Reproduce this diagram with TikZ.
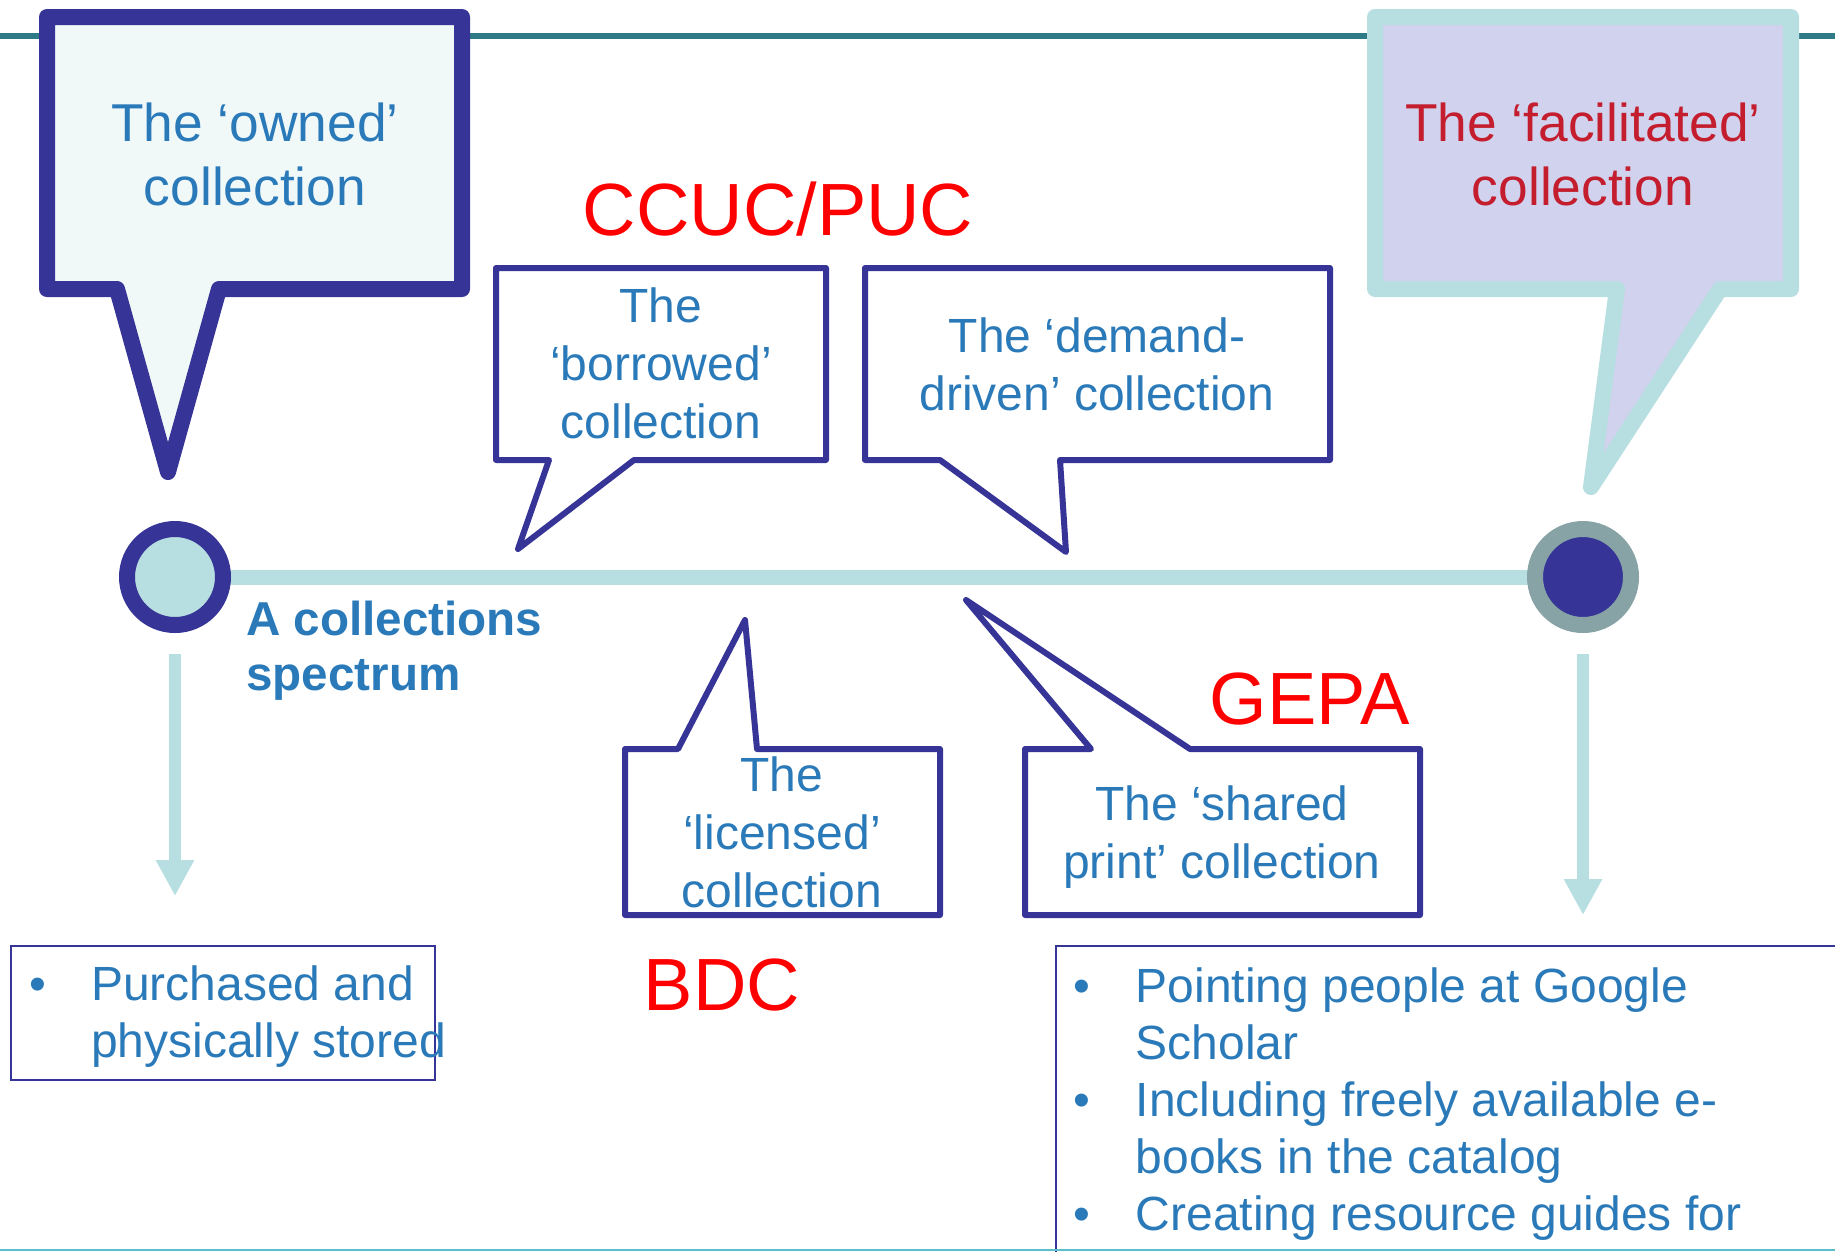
\documentclass[tikz,border=0pt]{standalone}
\usepackage{fontspec}
\setmainfont{Liberation Sans}
\usepackage{xcolor}
\usepackage{tikz}
\usetikzlibrary{arrows.meta,backgrounds}

\definecolor{indigo}{RGB}{54,52,150}
\definecolor{paleteal}{RGB}{183,222,224}
\definecolor{ownfill}{RGB}{240,248,248}
\definecolor{lavender}{RGB}{208,210,238}
\definecolor{ringgray}{RGB}{135,163,166}
\definecolor{ruleteal}{RGB}{46,123,135}
\definecolor{textblue}{RGB}{42,122,185}
\definecolor{darkred}{RGB}{196,30,46}
\definecolor{edgecyan}{RGB}{91,191,203}

\begin{document}
\begin{tikzpicture}[x=1pt, y=-1pt,
  bigcall/.style={line width=16pt, line join=round},
  smallcall/.style={draw=indigo, line width=6pt, line join=round, fill=white},
  calltext/.style={inner sep=0pt, align=center, text=textblue, font=\fontsize{48}{58}\selectfont},
  bigtext/.style={inner sep=0pt, align=center, font=\fontsize{53.3}{64}\selectfont},
  grouptag/.style={inner sep=0pt, text=red, font=\fontsize{74}{86}\selectfont},
  listbox/.style={draw=indigo, line width=2pt},
  bullets/.style={inner sep=0pt, align=left, text=textblue, font=\fontsize{48}{57}\selectfont},
  endpoint/.style={circle, inner sep=0pt, outer sep=0pt, minimum size=96pt, line width=16pt},
  flow/.style={draw=paleteal, line width=12pt, -{Triangle[width=36pt,length=36pt]}},
]
\useasboundingbox (0,0) rectangle (1835,1251);
\clip (0,0) rectangle (1835,1251);

\filldraw[bigcall, draw=indigo, fill=ownfill] (47,17) -- (462,17) -- (462,289) -- (219,289) -- (168,472) -- (117,289) -- (47,289) -- cycle;
\filldraw[bigcall, draw=paleteal, fill=lavender] (1375,17) -- (1791,17) -- (1791,289) -- (1720,289) -- (1591,487) -- (1617,289) -- (1375,289) -- cycle;
\filldraw[smallcall] (496,268) -- (826,268) -- (826,460) -- (634,460) -- (518,549) -- (549,460) -- (496,460) -- cycle;
\filldraw[smallcall] (865,268) -- (1330,268) -- (1330,460) -- (1060,460) -- (1066,552) -- (940,460) -- (865,460) -- cycle;
\filldraw[smallcall] (625,749) -- (678,749) -- (745,620) -- (757,749) -- (940,749) -- (940,915) -- (625,915) -- cycle;
\filldraw[smallcall] (1025,749) -- (1091,749) -- (966,600) -- (1190,749) -- (1420,749) -- (1420,915) -- (1025,915) -- cycle;

\node[bigtext, text=textblue, anchor=base] (owned) at (255,205) {The ‘owned’\\collection};
\node[bigtext, text=darkred, anchor=base] (facilitated) at (1583,205) {The ‘facilitated’\\collection};
\node[calltext, anchor=base] (borrowed) at (661,438) {The\\‘borrowed’\\collection};
\node[calltext, anchor=base] (demand) at (1097,410) {The ‘demand-\\driven’ collection};
\node[calltext, anchor=base] (licensed) at (782,907) {The\\‘licensed’\\collection};
\node[calltext, anchor=base] (shared) at (1222,878) {The ‘shared\\print’ collection};

\node[grouptag, anchor=base] (ccuc) at (778,235) {CCUC/PUC};
\node[grouptag, anchor=base] (gepa) at (1310,724) {GEPA};
\node[grouptag, anchor=base] (bdc) at (722,1010) {BDC};

\node[endpoint, draw=indigo, fill=paleteal] (lend) at (175,577) {};
\node[endpoint, draw=ringgray, fill=indigo] (rend) at (1583,577) {};
\node[inner sep=0pt, align=left, text=textblue, font=\bfseries\fontsize{47.6}{55}\selectfont, anchor=base west] (spectrum) at (246,690) {A collections\\spectrum};

\coordinate (ldrop) at (175,896);
\coordinate (rdrop) at (1583,915);
\draw[flow] ([yshift=-29pt]lend.south) -- (ldrop);
\draw[flow] ([yshift=-29pt]rend.south) -- (rdrop);

\draw[listbox] (11,945.5) rectangle (434.5,1079.5);
\draw[listbox] (1055.5,945.5) rectangle (1850,1270);
\node[bullets, anchor=base west] (physical) at (91,1057) {\llap{\textbullet\hspace{45pt}}Purchased and\\physically stored};
\node[bullets, anchor=base west] (online) at (1135.5,1230.5) {\llap{\textbullet\hspace{45pt}}Pointing people at Google\\Scholar\\\llap{\textbullet\hspace{45pt}}Including freely available e-\\books in the catalog\\\llap{\textbullet\hspace{45pt}}Creating resource guides for};

\draw[edgecyan, line width=2pt] (0,1250) -- (1835,1250);

\begin{scope}[on background layer]
  \draw[ruleteal, line width=6pt] (0,36) -- (1835,36);
  \draw[paleteal, line width=15pt] (lend.center) -- (rend.center);
\end{scope}
\end{tikzpicture}
\end{document}
